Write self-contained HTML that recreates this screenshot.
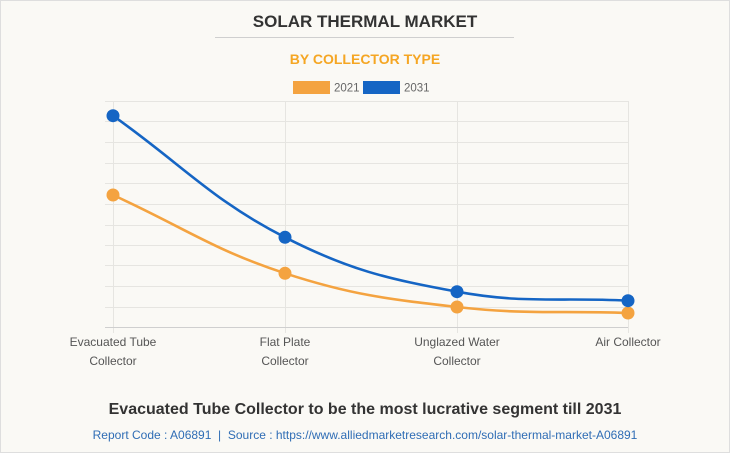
<!DOCTYPE html>
<html><head><meta charset="utf-8">
<style>
html,body{margin:0;padding:0;background:#faf9f5;}
body{width:730px;height:453px;overflow:hidden;}
svg{display:block;}
text{font-family:"Liberation Sans",Arial,sans-serif;}
</style></head>
<body>
<svg width="730" height="453" viewBox="0 0 730 453" xmlns="http://www.w3.org/2000/svg">
<rect x="0.5" y="0.5" width="729" height="452" fill="#faf9f5" stroke="#dedede" stroke-width="1"/>
<text x="365" y="27" text-anchor="middle" font-size="17" font-weight="bold" fill="#333">SOLAR THERMAL MARKET</text>
<line x1="215" y1="37.5" x2="514" y2="37.5" stroke="#cfcfcf" stroke-width="1"/>
<text x="365" y="64" text-anchor="middle" font-size="14" font-weight="bold" fill="#f5a623">BY COLLECTOR TYPE</text>
<rect x="293" y="81" width="37" height="13" fill="#f4a340"/>
<text x="334" y="91.5" font-size="11.5" fill="#666">2021</text>
<rect x="363" y="81" width="37" height="13" fill="#1565c4"/>
<text x="404" y="91.5" font-size="11.5" fill="#666">2031</text>
<g stroke="#e6e5e1" stroke-width="1">
<line x1="105" y1="101.5" x2="628" y2="101.5"/>
<line x1="105" y1="121.5" x2="628" y2="121.5"/>
<line x1="105" y1="142.5" x2="628" y2="142.5"/>
<line x1="105" y1="163.5" x2="628" y2="163.5"/>
<line x1="105" y1="183.5" x2="628" y2="183.5"/>
<line x1="105" y1="204.5" x2="628" y2="204.5"/>
<line x1="105" y1="225.5" x2="628" y2="225.5"/>
<line x1="105" y1="245.5" x2="628" y2="245.5"/>
<line x1="105" y1="265.5" x2="628" y2="265.5"/>
<line x1="105" y1="286.5" x2="628" y2="286.5"/>
<line x1="105" y1="307.5" x2="628" y2="307.5"/>
<line x1="113.5" y1="101" x2="113.5" y2="333"/>
<line x1="285.5" y1="101" x2="285.5" y2="333"/>
<line x1="457.5" y1="101" x2="457.5" y2="333"/>
<line x1="628.5" y1="101" x2="628.5" y2="333"/>
</g>
<line x1="105" y1="327.5" x2="628" y2="327.5" stroke="#cfcfcf" stroke-width="1"/>
<path d="M113,195 C181.8,226.3 213.6,250.1 285,273.3 C351.2,294.9 387.6,299 457,307 C524.8,314.8 559.6,310.6 628,313" fill="none" stroke="#f4a340" stroke-width="2.6"/>
<path d="M113,115.7 C181.8,164.3 210.9,199.4 285,237.3 C348.5,269.8 386.6,278.7 457,291.7 C523.8,304.05 559.6,297.1 628,300.7" fill="none" stroke="#1565c4" stroke-width="2.6"/>
<g fill="#f4a340">
<circle cx="113" cy="195" r="6.5"/>
<circle cx="285" cy="273.3" r="6.5"/>
<circle cx="457" cy="307" r="6.5"/>
<circle cx="628" cy="313" r="6.5"/>
</g>
<g fill="#1565c4">
<circle cx="113" cy="115.7" r="6.5"/>
<circle cx="285" cy="237.3" r="6.5"/>
<circle cx="457" cy="291.7" r="6.5"/>
<circle cx="628" cy="300.7" r="6.5"/>
</g>
<g font-size="12" fill="#555" text-anchor="middle">
<text x="113" y="346">Evacuated Tube</text>
<text x="113" y="365">Collector</text>
<text x="285" y="346">Flat Plate</text>
<text x="285" y="365">Collector</text>
<text x="457" y="346">Unglazed Water</text>
<text x="457" y="365">Collector</text>
<text x="628" y="346">Air Collector</text>
</g>
<text x="365" y="414" text-anchor="middle" font-size="16" font-weight="bold" fill="#333">Evacuated Tube Collector to be the most lucrative segment till 2031</text>
<text x="365" y="439" text-anchor="middle" font-size="12" fill="#2f6db5">Report Code : A06891&#160;&#160;|&#160;&#160;Source : https://www.alliedmarketresearch.com/solar-thermal-market-A06891</text>
</svg>
</body></html>
